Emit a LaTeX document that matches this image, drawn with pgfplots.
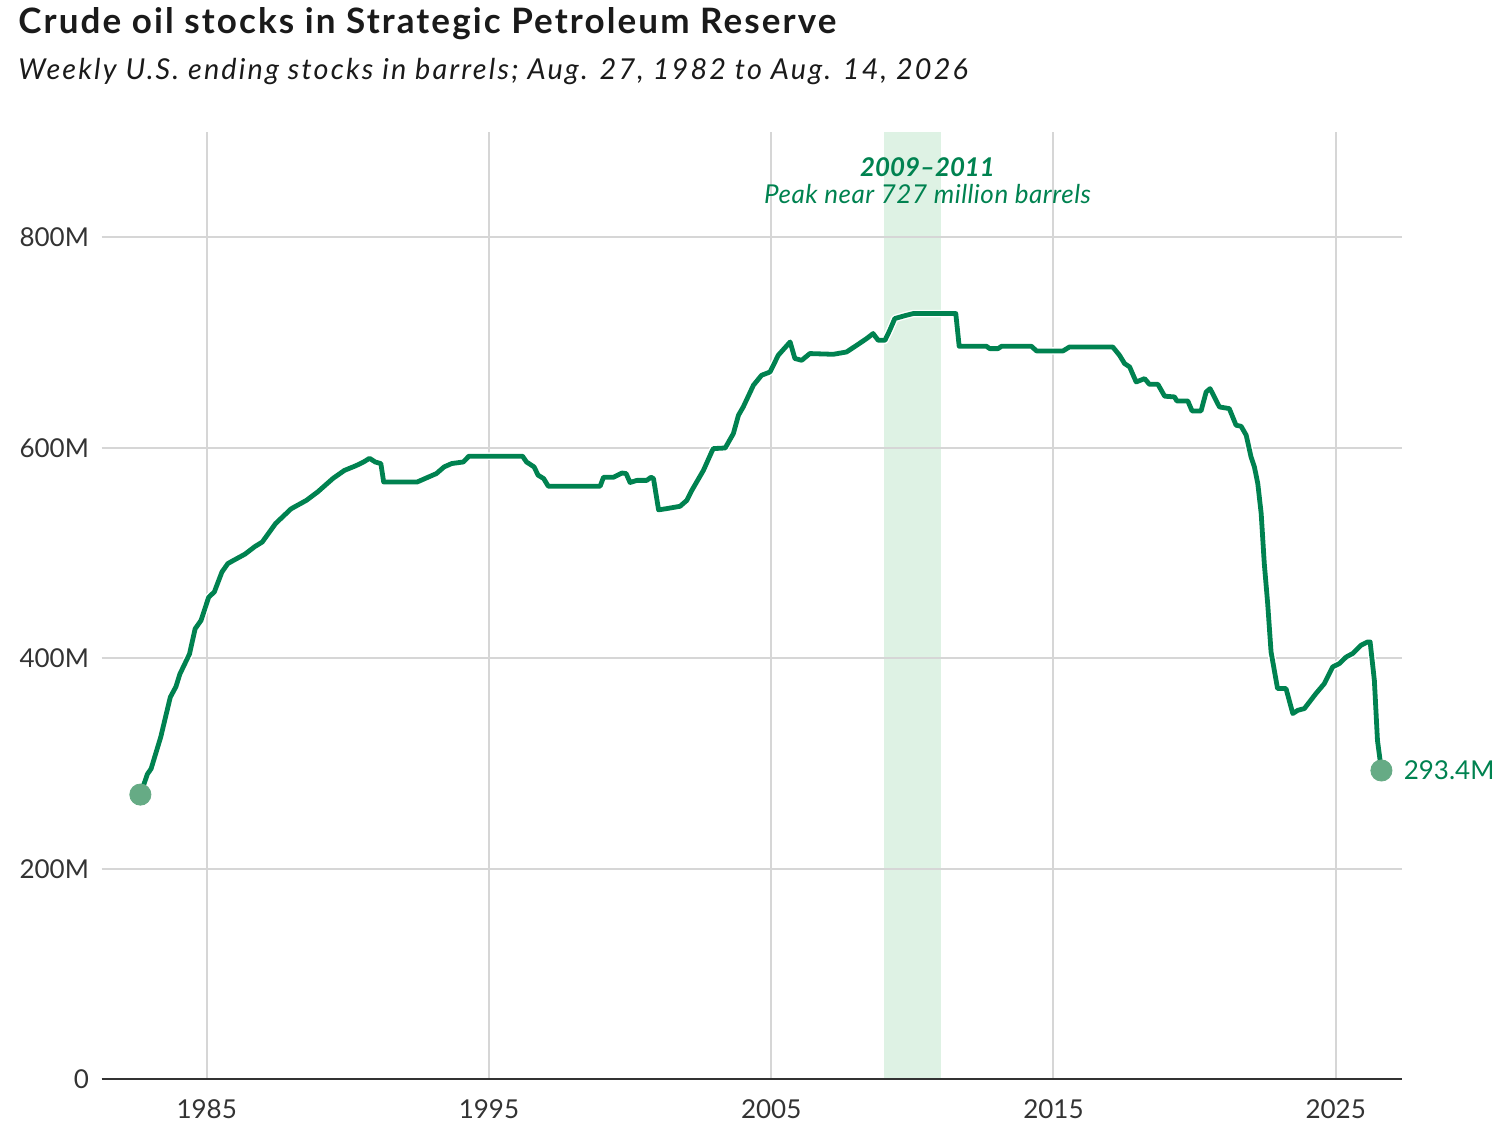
\documentclass[border=0pt]{standalone}
\usepackage{fontspec}
\setmainfont{Lato}
\usepackage{pgfplots}
\usepackage{pgfplotstable}
\pgfplotsset{compat=1.18}
\definecolor{linegreen}{RGB}{0,130,80}
\definecolor{dotgreen}{RGB}{102,171,133}
\definecolor{bandgreen}{RGB}{222,242,228}
\definecolor{gridgray}{RGB}{214,214,214}
\definecolor{textgray}{RGB}{51,51,51}
\definecolor{titlegray}{RGB}{26,26,26}

\pgfplotstableread{
year value
1982.65 270.5
1982.90 290
1983.03 295
1983.37 325
1983.71 363
1983.91 373
1984.05 385
1984.39 404
1984.59 428
1984.80 436
1985.07 458
1985.27 463
1985.54 482
1985.75 490
1985.95 493
1986.36 499
1986.70 506
1986.97 510.5
1987.44 528
1987.99 542
1988.53 550
1988.93 558
1989.48 571
1989.88 578.5
1990.29 583
1990.56 586.5
1990.77 590
1990.97 586.5
1991.17 585
1991.27 567.5
1992.46 567.5
1992.73 570.7
1993.14 575.5
1993.41 581.8
1993.68 585
1994.09 586.5
1994.29 592
1996.19 592
1996.33 586.5
1996.60 581.8
1996.74 574
1996.94 570.7
1997.10 563.5
1998.94 563.5
1999.06 572
1999.41 572
1999.71 576
1999.86 575.5
2000.00 567
2000.24 569
2000.59 569
2000.74 572
2000.83 570.7
2001.01 541
2001.30 542.2
2001.77 544.4
2002.01 550
2002.19 559.6
2002.60 578.6
2002.89 596
2002.95 599.2
2003.37 599.8
2003.66 613.5
2003.84 630.9
2004.01 638.8
2004.37 659.4
2004.66 668.9
2004.96 672
2005.25 687.9
2005.67 700.5
2005.84 684.8
2006.08 683.1
2006.37 689.5
2007.20 688.8
2007.67 691
2008.03 697.4
2008.38 703.7
2008.61 708.5
2008.79 702.1
2009.03 702.1
2009.20 711.6
2009.38 722.8
2009.79 725.9
2010.03 727.5
2011.54 727.5
2011.66 696.4
2012.63 696.4
2012.74 694.2
2013.04 694.2
2013.16 696.4
2014.22 696.4
2014.40 692
2015.34 692
2015.57 695.8
2017.10 695.8
2017.34 687.9
2017.52 680
2017.70 676.8
2017.93 662.5
2018.23 665.7
2018.40 660.3
2018.70 660.3
2018.94 649
2019.29 648.3
2019.37 644.5
2019.76 644.5
2019.91 635
2020.23 635
2020.41 653
2020.55 656.2
2020.88 638.8
2021.23 637.2
2021.47 621.4
2021.65 620.4
2021.83 611.9
2022.00 591.3
2022.12 581.8
2022.24 566
2022.36 537.5
2022.47 490
2022.59 452
2022.71 406
2022.94 371.2
2023.24 371.2
2023.48 347.5
2023.66 350.6
2023.89 352.2
2024.30 366.5
2024.60 376
2024.89 391.7
2025.13 395
2025.37 401.2
2025.60 404.5
2025.90 412.4
2026.13 415.5
2026.22 415.5
2026.37 379
2026.48 322
2026.62 293.4
}\sprdata

\begin{document}
\begin{tikzpicture}
\begin{axis}[
  set layers,
  at={(50.85bp,27.35bp)}, anchor=south west,
  scale only axis, width=650.3bp, height=473.65bp,
  xmin=1981.28, xmax=2027.36, ymin=0, ymax=900,
  axis x line*=bottom, axis y line*=left,
  x axis line style={draw=textgray, line width=1.2bp},
  y axis line style={draw=none},
  major tick length=0pt,
  xtick={1985,1995,2005,2015,2025},
  xticklabels={1985,1995,2005,2015,2025},
  ytick={0,200,400,600,800},
  yticklabels={0,200M,400M,600M,800M},
  xmajorgrids, ymajorgrids,
  grid style={draw=gridgray, line width=1bp},
  ticklabel style={font=\fontsize{13bp}{15bp}\selectfont, text=textgray, inner sep=0pt},
  xticklabel style={anchor=north, yshift=-9.8bp},
  yticklabel style={anchor=east, xshift=-6.2bp},
  clip=false,
]
\begin{pgfonlayer}{axis background}
\fill[bandgreen] (axis cs:2009,0) rectangle (axis cs:2011,900);
\end{pgfonlayer}
\addplot[white, line width=3.8bp, line join=round, line cap=round] table[x=year,y=value] {\sprdata};
\addplot[only marks, mark=*, mark size=5.3bp, color=dotgreen, mark options={draw=none, fill=dotgreen}] coordinates {(1982.65,270.5) (2026.62,293.4)};
\addplot[linegreen, line width=2.4bp, line join=round, line cap=round] table[x=year,y=value] {\sprdata};
\node[anchor=west, inner sep=0pt, xshift=11bp, text=linegreen, font=\fontsize{13bp}{15bp}\selectfont] at (axis cs:2026.62,293.4) {293.4M};
\node[anchor=base, inner sep=0pt, text=linegreen, font=\fontsize{12.9bp}{15bp}\selectfont\bfseries\itshape] at (axis cs:2010.54,858) {2009–2011};
\node[anchor=base, inner sep=0pt, text=linegreen, font=\fontsize{13bp}{15bp}\selectfont\itshape\addfontfeature{LetterSpace=2}] at (axis cs:2010.54,831.8) {Peak near 727 million barrels};
\end{axis}
\node[anchor=base west, inner sep=0pt, text=titlegray, font=\fontsize{17.5bp}{20bp}\selectfont\bfseries\addfontfeature{LetterSpace=6}] at (9bp,550.35bp) {Crude oil stocks in Strategic Petroleum Reserve};
\node[anchor=base west, inner sep=0pt, text=titlegray, font=\fontsize{14.4bp}{17bp}\selectfont\itshape\addfontfeature{LetterSpace=7.5}] at (9bp,527bp) {Weekly U.S. ending stocks in barrels; Aug. 27, 1982 to Aug. 14, 2026};
\pgfresetboundingbox
\path[use as bounding box] (0bp,0bp) rectangle (753bp,567bp);
\end{tikzpicture}
\end{document}
